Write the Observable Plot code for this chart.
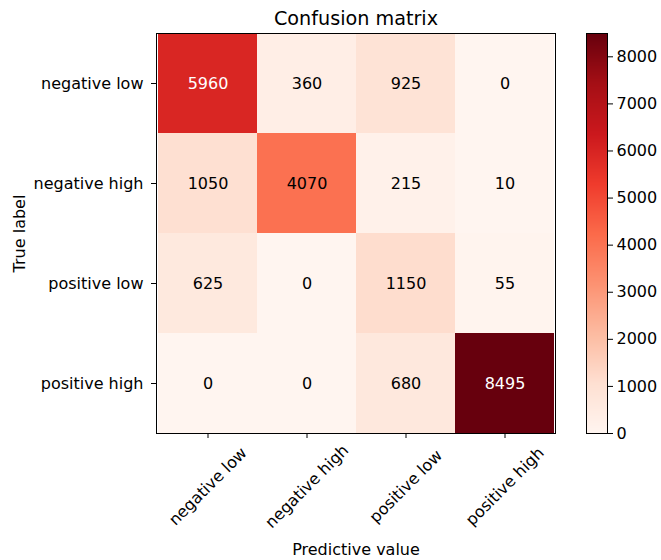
<!DOCTYPE html>
<html>
<head>
<meta charset="utf-8">
<script src="https://cdn.jsdelivr.net/npm/d3@7"></script>
<script src="https://cdn.jsdelivr.net/npm/@observablehq/plot@0.6"></script>
<style>
  html, body { margin: 0; padding: 0; background: #fff; }
  #wrap { position: relative; width: 661px; height: 560px; font-family: "DejaVu Sans", sans-serif; }
  #wrap svg { position: absolute; left: 0; top: 0; }
</style>
</head>
<body>
<div id="wrap"></div>
<script>
// Data
const trueLabels = ["negative low", "negative high", "positive low", "positive high"];
const predLabels = ["negative low", "negative high", "positive low", "positive high"];
const row_negLow  = [5960, 360, 925, 0];
const row_negHigh = [1050, 4070, 215, 10];
const row_posLow  = [625, 0, 1150, 55];
const row_posHigh = [0, 0, 680, 8495];
const colorbarTicks = [0, 1000, 2000, 3000, 4000, 5000, 6000, 7000, 8000];
const titleText = "Confusion matrix";
const xTitle = "Predictive value";
const yTitle = "True label";

const rows = [row_negLow, row_negHigh, row_posLow, row_posHigh];
const cells = [];
rows.forEach((r, i) => r.forEach((v, j) => cells.push({truth: trueLabels[i], pred: predLabels[j], value: v})));
const vmax = d3.max(cells, d => d.value);
const vmin = 0;
const thresh = vmax / 2;

// matplotlib "Reds" colormap anchors
const redsStops = ["#fff5f0","#fee0d2","#fcbba1","#fc9272","#fb6a4a","#ef3b2c","#cb181d","#a50f15","#67000d"];
const colorScale = {
  type: "linear",
  domain: redsStops.map((_, i) => vmin + (vmax - vmin) * i / (redsStops.length - 1)),
  range: redsStops,
  interpolate: "rgb"
};

const style = {fontFamily: "DejaVu Sans, sans-serif", fontSize: "16px", background: "transparent", color: "black"};

const main = Plot.plot({
  width: 661, height: 560,
  marginLeft: 156, marginRight: 106, marginTop: 33, marginBottom: 127,
  style,
  x: {domain: predLabels, padding: 0, label: null},
  y: {domain: trueLabels, padding: 0, label: null},
  color: colorScale,
  marks: [
    Plot.cell(cells, {x: "pred", y: "truth", fill: "value", inset: 0}),
    Plot.text(cells, {x: "pred", y: "truth", text: d => String(d.value), fontSize: 16,
      fill: d => d.value > thresh ? "white" : "black"}),
    Plot.frame({stroke: "black", strokeWidth: 1}),
    Plot.axisY({tickSize: 5, tickPadding: 8, fontSize: 16, label: null, stroke: "black"}),
    Plot.axisX({tickSize: 5, tickFormat: () => "", label: null, stroke: "black"}),
    Plot.text(predLabels, {x: d => d, text: d => d, frameAnchor: "bottom", rotate: -45,
      textAnchor: "middle", lineAnchor: "middle", dy: 53, fontSize: 16, fill: "black"}),
    Plot.text([titleText], {text: d => d, frameAnchor: "top", lineAnchor: "middle", dy: -14.5, fontSize: 19.2, fill: "black"}),
    Plot.text([xTitle], {text: d => d, frameAnchor: "bottom", lineAnchor: "middle", dy: 116, fontSize: 16, fill: "black"}),
    Plot.text([yTitle], {text: d => d, frameAnchor: "left", rotate: -90, textAnchor: "middle", lineAnchor: "middle", dx: -137, fontSize: 16, fill: "black"})
  ]
});

const bar = Plot.plot({
  width: 661, height: 560,
  marginLeft: 586, marginRight: 54, marginTop: 33, marginBottom: 127,
  style,
  x: {domain: [0, 1], axis: null},
  y: {domain: [vmin, vmax], label: null, axis: null},
  color: colorScale,
  marks: [
    Plot.raster({x1: 0, x2: 1, y1: vmin, y2: vmax, width: 1, height: 400, fill: (x, y) => y, imageRendering: "auto"}),
    Plot.frame({stroke: "black", strokeWidth: 1}),
    Plot.axisY(colorbarTicks, {anchor: "right", tickSize: 5, tickPadding: 4, fontSize: 16, label: null, tickFormat: d => String(d)})
  ]
});

const wrap = document.getElementById("wrap");
wrap.appendChild(main);
wrap.appendChild(bar);
</script>
</body>
</html>
